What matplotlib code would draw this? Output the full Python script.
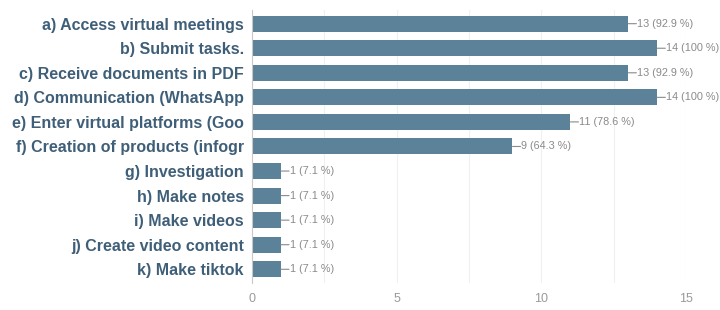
import matplotlib
matplotlib.use("Agg")
import matplotlib.pyplot as plt
from matplotlib import font_manager

categories = [
    "a) Access virtual meetings",
    "b) Submit tasks.",
    "c) Receive documents in PDF",
    "d) Communication (WhatsApp",
    "e) Enter virtual platforms (Goo",
    "f) Creation of products (infogr",
    "g) Investigation",
    "h) Make notes",
    "i) Make videos",
    "j) Create video content",
    "k) Make tiktok",
]
counts = [13, 14, 13, 14, 11, 9, 1, 1, 1, 1, 1]
percents = ["92.9", "100", "92.9", "100", "78.6", "64.3", "7.1", "7.1", "7.1", "7.1", "7.1"]
xticks = [0, 5, 10, 15]

BAR = "#5b8299"
LABEL = "#3f5f78"
GREY = "#8a8a8a"

# pick a narrow face if one is installed
installed = {f.name for f in font_manager.fontManager.ttflist}
NARROW = "Liberation Sans Narrow" if "Liberation Sans Narrow" in installed else "Liberation Sans"

fig = plt.figure(figsize=(7.2, 3.1), dpi=100)
ax = fig.add_axes([0.35, 0.087, 0.603, 0.881])

ypos = list(range(len(categories)))
ax.barh(ypos, counts, height=0.65, color=BAR, zorder=2)

# leader line + "n (p %)" label at the end of each bar
for y, c, p in zip(ypos, counts, percents):
    ax.annotate("", xy=(c + 0.28, y), xytext=(c, y),
                arrowprops=dict(arrowstyle="-", color=GREY, lw=0.8,
                                shrinkA=0, shrinkB=0))
    ax.text(c + 0.3, y, f"{c} ({p} %)", va="center", ha="left",
            fontsize=7.8, color=GREY, family=NARROW)

ax.set_xlim(0, 15)
ax.set_ylim(len(categories) - 0.44, -0.56)
ax.set_yticks(ypos)
ax.set_yticklabels(categories, fontsize=11.5, color=LABEL, family=NARROW,
                   fontweight="bold")
ax.set_xticks(xticks)
ax.set_xticklabels([str(t) for t in xticks], fontsize=9, color="#9a9a9a", family=NARROW)
ax.set_xticks([2.5, 7.5, 12.5], minor=True)
ax.grid(axis="x", which="both", color="#f0f0f0", lw=0.8, zorder=0)
ax.tick_params(axis="y", length=0, pad=6)
ax.tick_params(axis="x", which="both", length=0, pad=7)

for side in ("top", "right", "bottom"):
    ax.spines[side].set_visible(False)
ax.spines["left"].set_color("#c8c8c8")
ax.spines["left"].set_linewidth(0.8)

fig.savefig("out.png", dpi=100)
